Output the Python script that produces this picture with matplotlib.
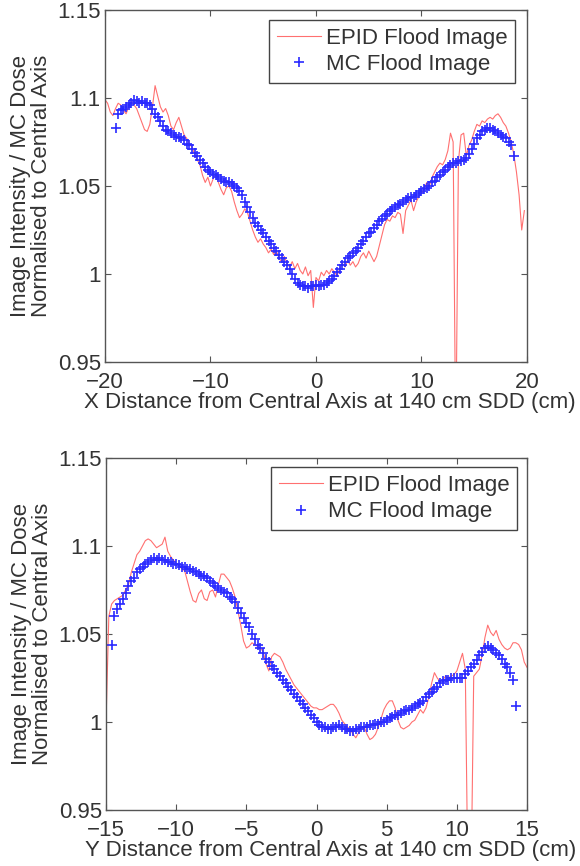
import numpy as np
import matplotlib
matplotlib.use("Agg")
import matplotlib.pyplot as plt

plt.rcParams['font.family'] = ['Liberation Sans', 'DejaVu Sans']

# ---- top panel: X profile ----
x_epid_top = np.linspace(-20.0, 19.75, 160)
epid_top = [
    1.099, 1.097, 1.092, 1.090, 1.094, 1.097, 1.096, 1.093,
    1.091, 1.095, 1.098, 1.096, 1.094, 1.090, 1.086, 1.082,
    1.081, 1.085, 1.095, 1.107, 1.101, 1.095, 1.092, 1.094,
    1.090, 1.084, 1.082, 1.086, 1.089, 1.084, 1.079, 1.077,
    1.074, 1.072, 1.068, 1.065, 1.062, 1.056, 1.052, 1.055,
    1.050, 1.054, 1.057, 1.052, 1.048, 1.045, 1.049, 1.050,
    1.047, 1.041, 1.036, 1.032, 1.034, 1.037, 1.035, 1.030,
    1.025, 1.021, 1.018, 1.020, 1.017, 1.015, 1.012, 1.014,
    1.011, 1.013, 1.009, 1.007, 1.010, 1.006, 1.004, 1.007,
    1.003, 1.006, 1.002, 1.000, 1.004, 0.999, 1.002, 0.981,
    0.998, 0.996, 1.001, 0.999, 1.002, 1.000, 1.003, 1.001,
    0.999, 1.003, 1.006, 1.004, 1.008, 1.005, 1.007, 1.004,
    1.006, 1.010, 1.012, 1.009, 1.013, 1.010, 1.007, 1.010,
    1.016, 1.022, 1.028, 1.031, 1.030, 1.033, 1.032, 1.035,
    1.034, 1.023, 1.036, 1.039, 1.042, 1.036, 1.041, 1.044,
    1.046, 1.048, 1.052, 1.050, 1.055, 1.058, 1.061, 1.063,
    1.062, 1.065, 1.070, 1.080, 1.075, 0.900, 1.064, 1.079,
    1.080, 1.067, 1.073, 1.076, 1.081, 1.085, 1.084, 1.087,
    1.086, 1.088, 1.089, 1.088, 1.090, 1.091, 1.089, 1.086,
    1.084, 1.080, 1.075, 1.068, 1.058, 1.045, 1.025, 1.036,
]

x_mc_top = np.linspace(-19.0, 18.75, 152)
mc_top = [
    1.083, 1.091, 1.093, 1.094,
    1.095, 1.096, 1.097, 1.099, 1.098, 1.097, 1.098, 1.097,
    1.097, 1.096, 1.094, 1.091, 1.089, 1.087, 1.084, 1.082,
    1.081, 1.080, 1.079, 1.078, 1.078, 1.077, 1.076, 1.074,
    1.073, 1.071, 1.069, 1.067, 1.065, 1.063, 1.061, 1.059,
    1.058, 1.057, 1.056, 1.055, 1.054, 1.053, 1.052, 1.052,
    1.051, 1.050, 1.049, 1.047, 1.045, 1.041, 1.038, 1.035,
    1.032, 1.029, 1.027, 1.025, 1.023, 1.021, 1.019, 1.017,
    1.015, 1.013, 1.011, 1.009, 1.007, 1.005, 1.003, 1.000,
    0.997, 0.995, 0.994, 0.993, 0.993, 0.992, 0.993, 0.993,
    0.994, 0.993, 0.994, 0.994, 0.995, 0.996, 0.997, 0.999,
    1.001, 1.003, 1.005, 1.007, 1.009, 1.010, 1.012, 1.013,
    1.015, 1.017, 1.019, 1.021, 1.023, 1.024, 1.026, 1.028,
    1.030, 1.031, 1.033, 1.034, 1.036, 1.037, 1.038, 1.039,
    1.040, 1.041, 1.042, 1.043, 1.044, 1.044, 1.045, 1.046,
    1.047, 1.048, 1.049, 1.050, 1.052, 1.053, 1.055, 1.056,
    1.058, 1.059, 1.061, 1.062, 1.063, 1.063, 1.064, 1.064,
    1.065, 1.066, 1.068, 1.071, 1.074, 1.077, 1.079, 1.081,
    1.082, 1.083, 1.083, 1.082, 1.081, 1.080, 1.079, 1.078,
    1.077, 1.075, 1.073, 1.067,
]

# ---- bottom panel: Y profile ----
x_epid_bot = np.linspace(-15.0, 15.0, 151)
epid_bot = [
    1.000, 1.060, 1.067, 1.069, 1.070, 1.071, 1.072, 1.075, 1.078, 1.085,
    1.090, 1.095, 1.097, 1.100, 1.103, 1.104, 1.103, 1.101, 1.099, 1.100,
    1.101, 1.105, 1.097, 1.094, 1.092, 1.090, 1.089, 1.087, 1.086, 1.080,
    1.074, 1.069, 1.068, 1.073, 1.075, 1.070, 1.069, 1.074, 1.075, 1.071,
    1.078, 1.084, 1.084, 1.082, 1.080, 1.076, 1.071, 1.063, 1.055, 1.046,
    1.042, 1.043, 1.045, 1.044, 1.043, 1.042, 1.040, 1.033, 1.029, 1.037,
    1.039, 1.038, 1.037, 1.034, 1.030, 1.027, 1.024, 1.021, 1.019, 1.017,
    1.015, 1.013, 1.011, 1.009, 1.008, 1.008, 1.007, 1.007, 1.008, 1.009,
    1.010, 1.010, 1.008, 1.005, 1.001, 0.999, 0.997, 0.996, 0.993, 0.991,
    0.994, 0.996, 0.997, 0.993, 0.990, 0.991, 0.993, 0.997, 1.002, 1.007,
    1.010, 1.012, 1.012, 1.008, 1.001, 0.997, 0.996, 0.997, 0.998, 1.000,
    1.001, 1.004, 1.007, 1.005, 1.008, 1.014, 1.022, 1.028, 1.025, 1.023,
    1.024, 1.026, 1.025, 1.026, 1.027, 1.029, 1.034, 1.039, 1.030, 0.900,
    0.900, 1.026, 1.028, 1.030, 1.038, 1.048, 1.055, 1.051, 1.049, 1.052,
    1.047, 1.044, 1.042, 1.041, 1.042, 1.045, 1.045, 1.044, 1.041, 1.034,
    1.031,
]

x_mc_bot = np.linspace(-14.6, 14.2, 145)
mc_bot = [
    1.044, 1.060, 1.064, 1.067, 1.070, 1.073, 1.077, 1.080, 1.082, 1.085,
    1.087, 1.088, 1.090, 1.091, 1.092, 1.093, 1.092, 1.093, 1.092, 1.092,
    1.091, 1.091, 1.090, 1.090, 1.089, 1.088, 1.088, 1.087, 1.087, 1.086,
    1.085, 1.084, 1.083, 1.083, 1.082, 1.080, 1.079, 1.077, 1.076, 1.075,
    1.074, 1.073, 1.071, 1.070, 1.068, 1.065, 1.062, 1.059, 1.056, 1.054,
    1.050, 1.047, 1.044, 1.042, 1.039, 1.036, 1.034, 1.032, 1.030, 1.028,
    1.026, 1.024, 1.022, 1.020, 1.018, 1.016, 1.014, 1.012, 1.010, 1.008,
    1.006, 1.004, 1.002, 1.000, 0.998, 0.997, 0.997, 0.996, 0.996, 0.997,
    0.997, 0.998, 0.997, 0.996, 0.996, 0.995, 0.995, 0.996, 0.996, 0.997,
    0.997, 0.997, 0.998, 0.998, 0.999, 0.999, 1.000, 1.000, 1.001, 1.002,
    1.003, 1.004, 1.004, 1.005, 1.006, 1.007, 1.007, 1.008, 1.009, 1.010,
    1.011, 1.012, 1.014, 1.016, 1.017, 1.019, 1.020, 1.022, 1.023, 1.024,
    1.024, 1.025, 1.025, 1.025, 1.025, 1.025, 1.027, 1.029, 1.031, 1.033,
    1.035, 1.038, 1.040, 1.042, 1.043, 1.042, 1.041, 1.039, 1.038, 1.036,
    1.033, 1.031, 1.028, 1.024, 1.009,
]

y_ticks = [0.95, 1.0, 1.05, 1.1, 1.15]
y_ticklabels = ['0.95', '1', '1.05', '1.1', '1.15']
x_ticks_top = [-20, -10, 0, 10, 20]
x_ticks_bot = [-15, -10, -5, 0, 5, 10, 15]

red = '#ff7070'
blue = '#2a2aff'
txt = '#333333'
fs = 16

fig = plt.figure(figsize=(5.8, 8.66), dpi=100)
ax1 = fig.add_axes([0.181, 0.582, 0.7276, 0.4065])
ax2 = fig.add_axes([0.1828, 0.0647, 0.7259, 0.4065])

panels = [
    (ax1, x_epid_top, epid_top, x_mc_top, mc_top, (-20, 20), x_ticks_top,
     'X Distance from Central Axis at 140 cm SDD (cm)', (0.972, 0.972)),
    (ax2, x_epid_bot, epid_bot, x_mc_bot, mc_bot, (-15, 15), x_ticks_bot,
     'Y Distance from Central Axis at 140 cm SDD (cm)', (0.976, 0.974)),
]

for ax, xe, ye, xm, ym, xlim, xt, xlabel, anchor in panels:
    ax.plot(xe, ye, color=red, lw=0.8, label='EPID Flood Image')
    ax.plot(xm, ym, ls='none', marker='+', ms=7, mew=1.2, color=blue,
            label='MC Flood Image')
    ax.set_xlim(*xlim)
    ax.set_ylim(0.95, 1.15)
    ax.set_xticks(xt)
    ax.set_xticklabels([str(v).replace('-', '\u2212') for v in xt])
    ax.set_yticks(y_ticks)
    ax.set_yticklabels(y_ticklabels)
    ax.tick_params(direction='in', top=True, right=True, length=4,
                   width=0.8, colors='#555555', labelcolor=txt,
                   labelsize=fs)
    ax.tick_params(axis='x', pad=7)
    ax.tick_params(axis='y', pad=3)
    for s in ax.spines.values():
        s.set_color('#555555')
        s.set_linewidth(1.0)
    ax.set_xlabel(xlabel, fontsize=fs, color=txt, labelpad=0)
    ax.xaxis.set_label_coords(0.533, -0.085)
    ax.set_ylabel('Image Intensity / MC Dose\nNormalised to Central Axis',
                  fontsize=fs, color=txt, labelpad=4, linespacing=1.0)
    leg = ax.legend(loc='upper right', bbox_to_anchor=anchor, borderaxespad=0,
                    fontsize=fs, fancybox=False, framealpha=1,
                    edgecolor='#444444', handlelength=2.0,
                    borderpad=0.35, labelspacing=0.25, handletextpad=0.2)
    leg.get_frame().set_linewidth(1.0)
    for t in leg.get_texts():
        t.set_color(txt)

fig.savefig('out.png', dpi=100)
